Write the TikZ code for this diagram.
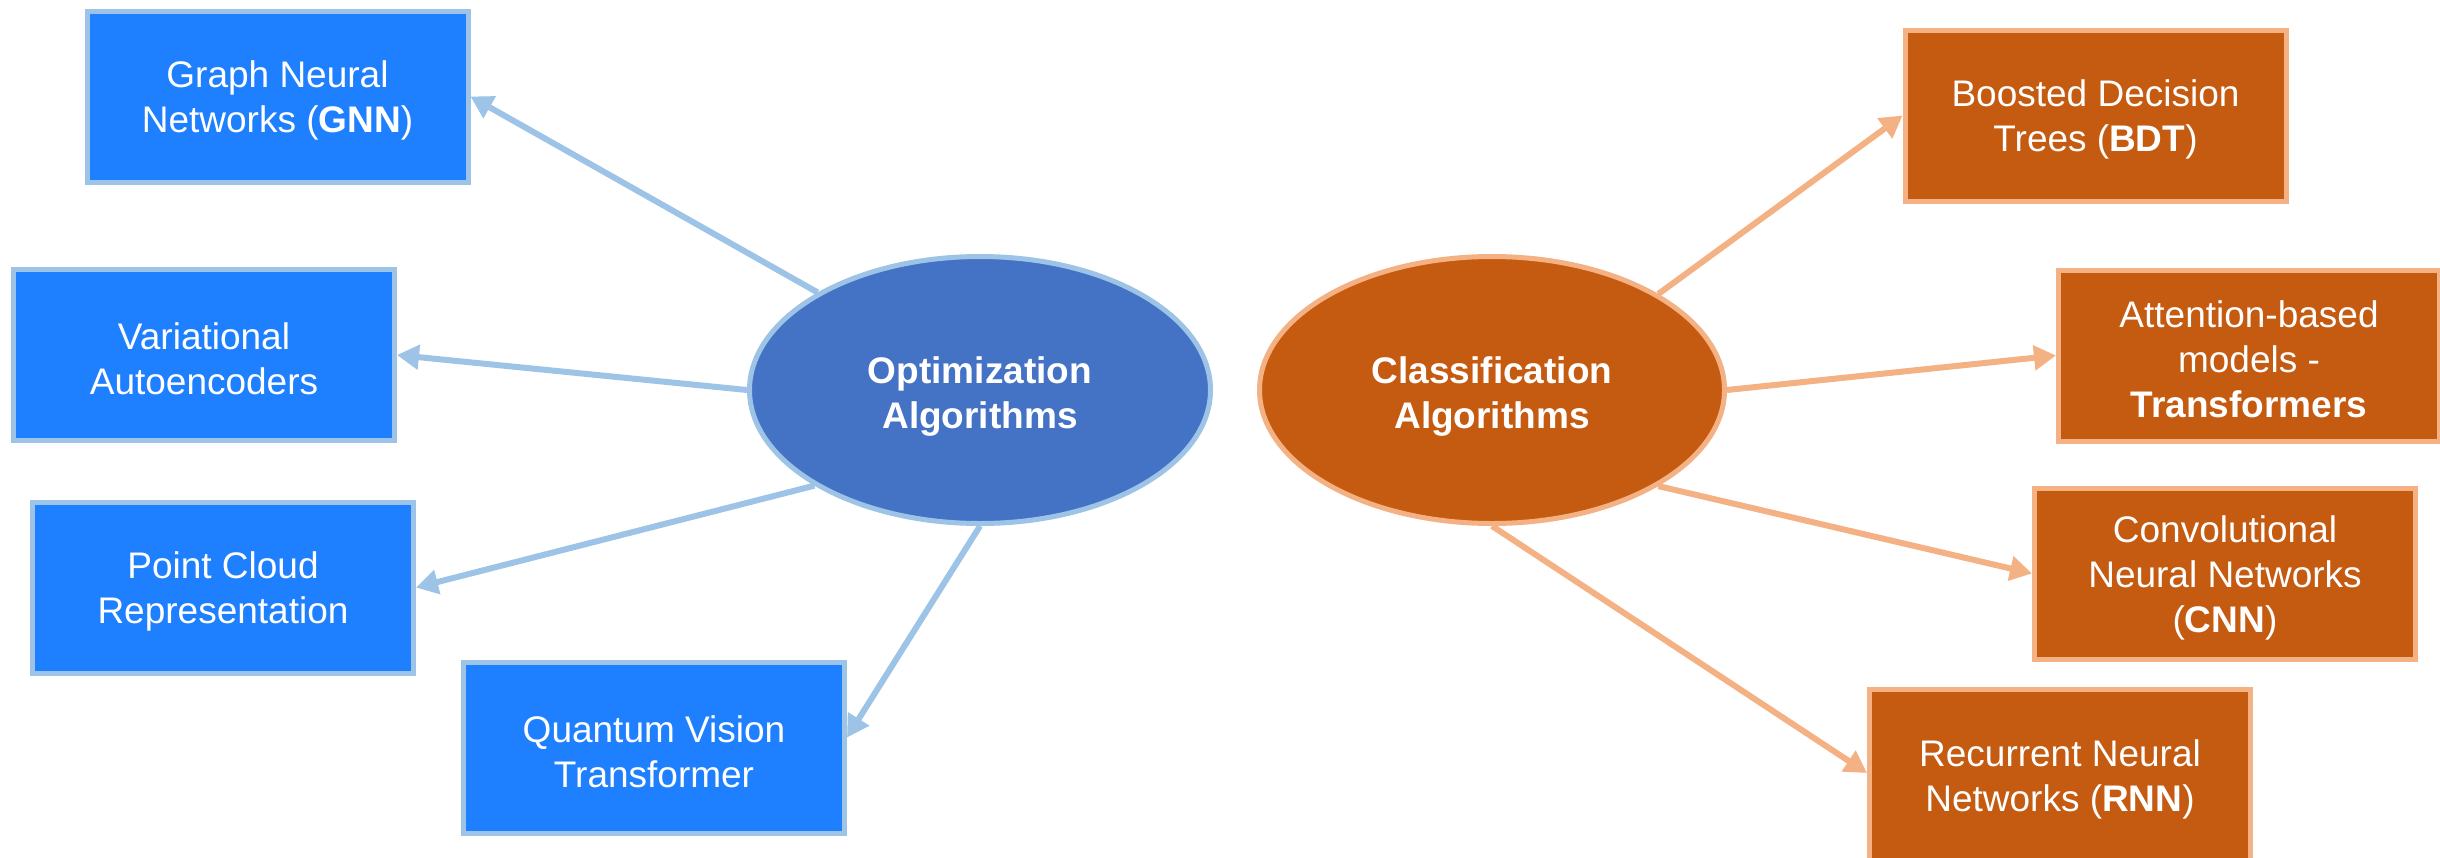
\documentclass[tikz,border=0pt]{standalone}
\usepackage{fontspec}
\setmainfont{Liberation Sans}
\usetikzlibrary{arrows.meta,shapes.geometric}
\definecolor{bluefill}{RGB}{31,128,255}
\definecolor{blueline}{RGB}{157,195,230}
\definecolor{bluedark}{RGB}{68,114,196}
\definecolor{orfill}{RGB}{197,90,17}
\definecolor{orline}{RGB}{244,177,131}
\newcommand{\tpbox}{\rule{0pt}{17.5pt}}
\newcommand{\tpell}{\rule{0pt}{19.5pt}}
\tikzset{
 bbox/.style={draw=blueline, fill=bluefill, line width=2.5pt, minimum width=190.5pt, minimum height=85.5pt, text=white, align=center, font=\fontsize{18.5}{22.5}\selectfont, inner sep=0pt},
 obox/.style={bbox, draw=orline, fill=orfill},
 bell/.style={ellipse, draw=blueline, fill=bluedark, line width=2.5pt, minimum width=230.5pt, minimum height=133.5pt, text=white, align=center, font=\fontsize{18.5}{22.5}\selectfont\bfseries, inner sep=0pt},
 oell/.style={bell, draw=orline, fill=orfill, minimum width=232.5pt},
 barr/.style={draw=blueline, line width=3pt, -{Triangle[length=11pt,width=12pt]}},
 oarr/.style={barr, draw=orline},
}
\begin{document}
\begin{tikzpicture}[x=0.5pt,y=-0.5pt]
\useasboundingbox (0,0) rectangle (2440,857);
\fill[white] (0,0) rectangle (2440,857);
% left
\node[bbox] (gnn) at (277.5,96.5) {\tpbox Graph Neural\\Networks (\textbf{GNN})};
\node[bbox] (vae) at (204,355) {\tpbox Variational\\Autoencoders};
\node[bbox] (pc) at (223,587.5) {\tpbox Point Cloud\\Representation};
\node[bbox] (qvt) at (654,747.5) {\tpbox Quantum Vision\\Transformer};
\node[bell] (opt) at (980,390) {\tpell Optimization\\Algorithms};
% right
\node[obox] (bdt) at (2095.5,115.5) {\tpbox Boosted Decision\\Trees (\textbf{BDT})};
\node[obox] (att) at (2249,355.5) {\tpbox Attention-based\\models -\\\textbf{Transformers}};
\node[obox] (cnn) at (2225,573.5) {\tpbox Convolutional\\Neural Networks\\(\textbf{CNN})};
\node[obox] (rnn) at (2060,775) {\tpbox Recurrent Neural\\Networks (\textbf{RNN})};
\node[oell] (cls) at (1492,390) {\tpell Classification\\Algorithms};
% arrows
\draw[barr] (opt.149.5) -- (gnn.east);
\draw[barr] (opt.180) -- (vae.east);
\draw[barr] (opt.210.4) -- (pc.east);
\draw[barr] (opt.270) -- ([yshift=5pt]qvt.east);
\draw[oarr] (cls.30.5) -- (bdt.west);
\draw[oarr] (cls.0) -- (att.west);
\draw[oarr] (cls.-30) -- (cnn.west);
\draw[oarr] (cls.270) -- ([yshift=1pt]rnn.west);
\end{tikzpicture}
\end{document}
